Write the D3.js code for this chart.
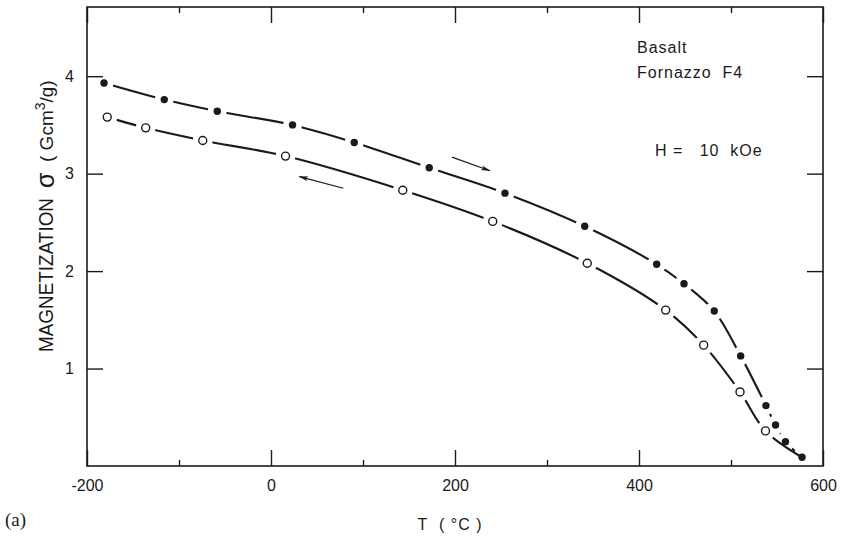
<!DOCTYPE html>
<html>
<head>
<meta charset="utf-8">
<script src="https://cdn.jsdelivr.net/npm/d3@7"></script>
<style>
  html, body { margin: 0; padding: 0; background: #fff; }
  #graph { width: 841px; height: 537px; }
  text { font-family: "Liberation Sans", Arial, sans-serif; fill: #1a1a1a; }
</style>
</head>
<body>
<div id="graph"></div>
<script>
// heating run (filled dots)
const heatingT     = [-181.5, -116, -58.4, 23.4, 90.5, 172, 254.3, 341, 419.2, 448.9, 481.8, 510.5, 538, 548.4, 559.2, 577.2];
const heatingSigma = [3.93, 3.76, 3.64, 3.50, 3.32, 3.06, 2.80, 2.46, 2.07, 1.87, 1.59, 1.13, 0.62, 0.42, 0.25, 0.09];
// cooling run (open dots); the curve runs on to the last heating point
const coolingT     = [-178, -136.2, -74.2, 15.8, 143.2, 241, 343.8, 429, 470.3, 509.8, 537.5];
const coolingSigma = [3.58, 3.47, 3.34, 3.18, 2.83, 2.51, 2.08, 1.60, 1.24, 0.76, 0.36];
const coolingEndT = 577.2, coolingEndSigma = 0.09;

const tempTicks = [-200, 0, 200, 400, 600];
const tempMinorTicks = [-100, 100, 300, 500];
const sigmaTicks = [1, 2, 3, 4];

// arrows: [T, sigma] from -> to
const heatArrow = [[196.7, 3.17], [238, 3.03]];
const coolArrow = [[78.6, 2.85], [30.8, 2.97]];

const W = 841, H = 537;
const plot = { left: 87, right: 823, top: 7, bottom: 466 };
const INK = "#1a1a1a";
const NBSP = "\u00a0";

const x = d3.scaleLinear().domain([-200, 600]).range([plot.left, plot.right]);
const y = d3.scaleLinear().domain([0, 4.71]).range([plot.bottom, plot.top]);

const heating = heatingT.map((t, i) => ({ t, s: heatingSigma[i] }));
const cooling = coolingT.map((t, i) => ({ t, s: coolingSigma[i] }));

const svg = d3.select("#graph").append("svg")
    .attr("width", W)
    .attr("height", H);

const defs = svg.append("defs");
defs.append("marker")
    .attr("id", "arrowhead")
    .attr("viewBox", "0 0 10 6")
    .attr("refX", 9).attr("refY", 3)
    .attr("markerWidth", 10).attr("markerHeight", 6)
    .attr("markerUnits", "userSpaceOnUse")
    .attr("orient", "auto")
    .append("path")
    .attr("d", "M0,0.6 L10,3 L0,5.4 L2.5,3 Z")
    .attr("fill", INK);

function makeGapMask(id, pts, r) {
    const m = defs.append("mask")
        .attr("id", id)
        .attr("maskUnits", "userSpaceOnUse")
        .attr("x", 0).attr("y", 0).attr("width", W).attr("height", H);
    m.append("rect").attr("width", W).attr("height", H).attr("fill", "#fff");
    m.selectAll("circle").data(pts).join("circle")
        .attr("cx", d => x(d.t)).attr("cy", d => y(d.s))
        .attr("r", r).attr("fill", "#000");
}
makeGapMask("gap-heat", heating, 9.5);
makeGapMask("gap-cool", cooling, 10);

// axes -- ticks point inward on all four sides
function styleAxis(g) {
    g.select(".domain").remove();
    g.selectAll(".tick line").attr("stroke", INK).attr("stroke-width", 1.4);
    g.selectAll(".tick text")
        .attr("fill", INK)
        .style("font-size", "16px")
        .style("font-family", "'Liberation Sans', Arial, sans-serif");
}

svg.append("g")
    .attr("transform", `translate(0,${plot.bottom})`)
    .call(d3.axisBottom(x).tickValues(tempTicks).tickSize(-16).tickPadding(14).tickFormat(d => String(d)))
    .call(styleAxis);
svg.append("g")
    .attr("transform", `translate(0,${plot.bottom})`)
    .call(d3.axisBottom(x).tickValues(tempMinorTicks).tickSize(-6).tickFormat(""))
    .call(styleAxis);
svg.append("g")
    .attr("transform", `translate(0,${plot.top})`)
    .call(d3.axisTop(x).tickValues(tempTicks).tickSize(-16).tickFormat(""))
    .call(styleAxis);
svg.append("g")
    .attr("transform", `translate(0,${plot.top})`)
    .call(d3.axisTop(x).tickValues(tempMinorTicks).tickSize(-6).tickFormat(""))
    .call(styleAxis);
svg.append("g")
    .attr("transform", `translate(${plot.left},0)`)
    .call(d3.axisLeft(y).tickValues(sigmaTicks).tickSize(-16).tickPadding(13).tickFormat(d => String(d)))
    .call(styleAxis);
svg.append("g")
    .attr("transform", `translate(${plot.right},0)`)
    .call(d3.axisRight(y).tickValues(sigmaTicks).tickSize(-16).tickFormat(""))
    .call(styleAxis);

svg.append("rect")
    .attr("x", plot.left).attr("y", plot.top)
    .attr("width", plot.right - plot.left).attr("height", plot.bottom - plot.top)
    .attr("fill", "none")
    .attr("stroke", INK)
    .attr("stroke-width", 1.6);

// curves, broken around each dot
const line = d3.line()
    .x(d => x(d.t))
    .y(d => y(d.s))
    .curve(d3.curveCatmullRom.alpha(0.5));

svg.append("path")
    .datum(heating)
    .attr("d", line)
    .attr("fill", "none")
    .attr("stroke", INK)
    .attr("stroke-width", 2.1)
    .attr("mask", "url(#gap-heat)");

svg.append("path")
    .datum(cooling.concat([{ t: coolingEndT, s: coolingEndSigma }]))
    .attr("d", line)
    .attr("fill", "none")
    .attr("stroke", INK)
    .attr("stroke-width", 2.1)
    .attr("mask", "url(#gap-cool)");

svg.append("g").selectAll("circle")
    .data(heating)
    .join("circle")
    .attr("cx", d => x(d.t)).attr("cy", d => y(d.s))
    .attr("r", 3.7)
    .attr("fill", INK);

svg.append("g").selectAll("circle")
    .data(cooling)
    .join("circle")
    .attr("cx", d => x(d.t)).attr("cy", d => y(d.s))
    .attr("r", 4)
    .attr("fill", "#fff")
    .attr("stroke", INK)
    .attr("stroke-width", 1.4);

// direction arrows
svg.append("g").selectAll("line")
    .data([heatArrow, coolArrow])
    .join("line")
    .attr("x1", d => x(d[0][0])).attr("y1", d => y(d[0][1]))
    .attr("x2", d => x(d[1][0])).attr("y2", d => y(d[1][1]))
    .attr("stroke", INK)
    .attr("stroke-width", 1.2)
    .attr("marker-end", "url(#arrowhead)");

// annotations
const note = svg.append("g")
    .style("font-size", "16px")
    .style("letter-spacing", "1px");
note.append("text").attr("x", 637).attr("y", 53).text("Basalt");
note.append("text").attr("x", 637).attr("y", 78).text("Fornazzo" + NBSP + NBSP + "F4");
note.append("text").attr("x", 655).attr("y", 156).text("H" + NBSP + "=" + NBSP + NBSP + NBSP + "10" + NBSP + NBSP + "kOe");

// axis titles
svg.append("text")
    .attr("x", 450).attr("y", 530)
    .attr("text-anchor", "middle")
    .style("font-size", "16px")
    .style("letter-spacing", "1px")
    .text("T" + NBSP + NBSP + "(" + NBSP + "°C" + NBSP + ")");

const yTitle = svg.append("g").attr("transform", "translate(53,0) rotate(-90)");
yTitle.append("text")
    .attr("x", -352).attr("y", 0)
    .attr("textLength", 154)
    .attr("lengthAdjust", "spacingAndGlyphs")
    .style("font-size", "20px")
    .text("MAGNETIZATION");
yTitle.append("text")
    .attr("x", -188).attr("y", 1)
    .style("font-size", "25px")
    .text("σ");
const unit = yTitle.append("text")
    .attr("x", -162).attr("y", 0)
    .style("font-size", "19px");
unit.append("tspan").text("(" + NBSP + "Gcm");
unit.append("tspan").attr("dy", -8).style("font-size", "14px").text("3");
unit.append("tspan").attr("dy", 8).text("/g)");

svg.append("text")
    .attr("x", 5).attr("y", 526)
    .style("font-family", "'Liberation Serif', 'Times New Roman', serif")
    .style("font-size", "19px")
    .text("(a)");
</script>
</body>
</html>
